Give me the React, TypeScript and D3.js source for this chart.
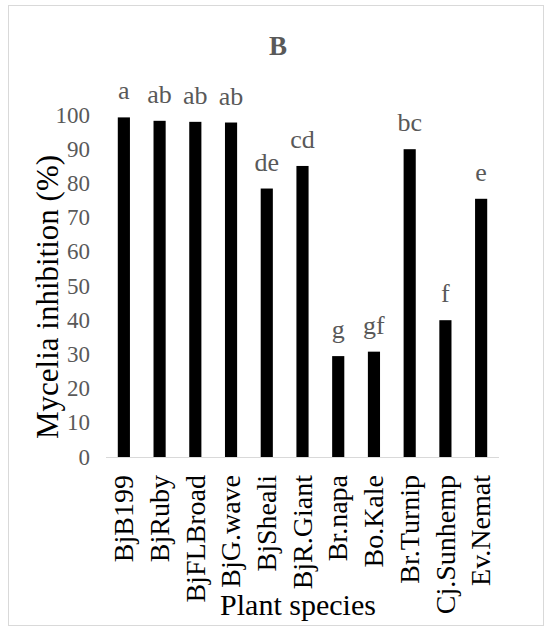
import React from "react";
import * as d3 from "d3";

const species = [
  "BjB199", "BjRuby", "BjFLBroad", "BjG.wave", "BjSheali", "BjR.Giant",
  "Br.napa", "Bo.Kale", "Br.Turnip", "Cj.Sunhemp", "Ev.Nemat",
];
const inhibition = [99.3, 98.3, 98, 97.8, 78.5, 85.1, 29.5, 30.8, 90, 40, 75.5];
const letters = ["a", "ab", "ab", "ab", "de", "cd", "g", "gf", "bc", "f", "e"];
const yTicks = [0, 10, 20, 30, 40, 50, 60, 70, 80, 90, 100];

const W = 551;
const H = 631;
const font = "Liberation Serif";
const grey = "#595959";

function App() {
  const x = d3.scaleBand().domain(species).range([106, 499]).paddingInner(0.66).paddingOuter(0.33);
  const y = d3.scaleLinear().domain([0, 100]).range([457, 115]);
  const bw = x.bandwidth();

  return (
    <svg width={W} height={H} style={{ position: "absolute", left: 0, top: 0, fontFamily: font }}>
      <rect x={8.5} y={5.5} width={535} height={620} fill="#fff" stroke="#d9d9d9" strokeWidth={1} />
      <text x={278} y={55} textAnchor="middle" fontSize={27} fontWeight="bold" fill={grey}>
        B
      </text>
      {yTicks.map((t) => (
        <text key={t} x={90} y={y(t)} dy="0.33em" textAnchor="end" fontSize={23} fill={grey}>
          {t}
        </text>
      ))}
      <line x1={106} x2={499} y1={y(0) + 0.5} y2={y(0) + 0.5} stroke="#d9d9d9" strokeWidth={1} />
      {species.map((s, i) => {
        const cx = (x(s) as number) + bw / 2;
        return (
          <g key={s}>
            <rect x={x(s)} y={y(inhibition[i])} width={bw} height={y(0) - y(inhibition[i])} fill="#000" />
            <text x={cx} y={y(inhibition[i]) - 18} textAnchor="middle" fontSize={26} fill={grey}>
              {letters[i]}
            </text>
            <text
              transform={`translate(${cx},475) rotate(-90)`}
              textAnchor="end"
              dy="0.33em"
              fontSize={28}
              fill="#000"
            >
              {s}
            </text>
          </g>
        );
      })}
      <text transform="translate(48,297) rotate(-90)" textAnchor="middle" dy="0.33em" fontSize={31} fill="#000">
        Mycelia inhibition (%)
      </text>
      <text x={298} y={615} textAnchor="middle" fontSize={30} fill="#000">
        Plant species
      </text>
    </svg>
  );
}

export default App;
